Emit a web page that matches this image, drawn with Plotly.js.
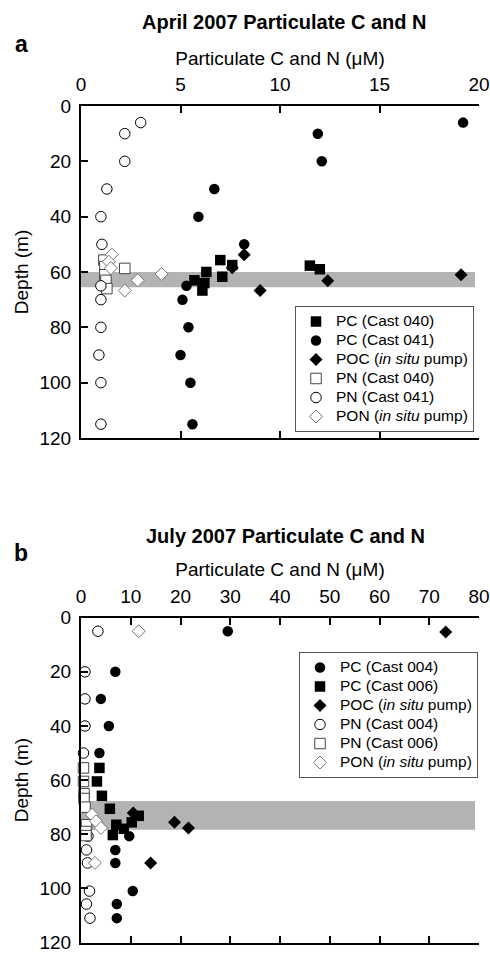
<!DOCTYPE html>
<html><head><meta charset="utf-8">
<script src="https://cdn.plot.ly/plotly-3.0.1.min.js"></script>
<style>html,body{margin:0;padding:0;background:#fff}#chart{width:490px;height:954px}</style>
</head><body><div id="chart"></div>
<script>
// ---------- Panel a : April 2007 ----------
const aPcCast040C     = [7.0, 7.6, 6.3, 7.1, 5.7, 6.2, 6.1, 11.5, 12.0];
const aPcCast040Depth = [55.7, 57.5, 60.0, 61.7, 63.0, 64.0, 66.7, 57.7, 59.0];
const aPcCast041C     = [19.2, 11.9, 12.1, 6.7, 5.9, 8.2, 5.3, 5.1, 5.4, 5.0, 5.5, 5.6];
const aPcCast041Depth = [6, 10, 20, 30, 40, 50, 65, 70, 80, 90, 100, 115];
const aPocC           = [8.2, 7.6, 12.4, 19.1, 9.0];
const aPocDepth       = [53.8, 58.5, 63.2, 61.0, 66.7];
const aPnCast040N     = [1.15, 1.2, 1.2, 1.25, 1.3, 2.2];
const aPnCast040Depth = [55.7, 58.0, 61.0, 63.0, 66.0, 58.7];
const aPnCast041N     = [3.0, 2.2, 2.2, 1.3, 1.0, 1.05, 1.0, 1.0, 1.0, 0.9, 1.0, 1.0];
const aPnCast041Depth = [6, 10, 20, 30, 40, 50, 65, 70, 80, 90, 100, 115];
const aPonN           = [1.55, 1.4, 1.5, 4.05, 2.85, 2.2];
const aPonDepth       = [53.7, 56.3, 58.6, 60.7, 63.0, 66.7];
const aBandDepth      = [60, 65.5];
const aBandC          = [0, 19.8];

// ---------- Panel b : July 2007 ----------
const bPcCast004C     = [29.5, 6.9, 4.0, 5.6, 3.7, 9.7, 6.9, 6.9, 10.4, 7.2, 7.2];
const bPcCast004Depth = [5, 20, 30, 40, 50, 80.7, 85.8, 90.6, 101, 105.8, 111];
const bPcCast006C     = [3.7, 3.2, 4.2, 5.8, 11.6, 10.2, 7.1, 8.6, 6.4];
const bPcCast006Depth = [55.5, 60.5, 65.8, 70.6, 73.2, 75.6, 76.5, 78.0, 80.3];
const bPocC           = [73.3, 10.5, 18.8, 21.6, 14.0];
const bPocDepth       = [5.3, 72.2, 75.6, 77.7, 90.6];
const bPnCast004N     = [3.4, 0.8, 0.8, 0.8, 0.5, 1.4, 1.1, 1.3, 1.7, 1.1, 1.8];
const bPnCast004Depth = [5, 20, 30, 40, 50, 80.7, 85.8, 90.6, 101, 105.8, 111];
const bPnCast006N     = [0.5, 0.5, 0.6, 0.6, 0.8, 1.1, 1.0, 1.0];
const bPnCast006Depth = [55.5, 60.5, 65.0, 66.8, 70.0, 76.5, 79.0, 80.5];
const bPonN           = [11.6, 2.2, 3.0, 4.0, 2.8];
const bPonDepth       = [5.0, 72.8, 75.2, 77.7, 90.6];
const bBandDepth      = [67.7, 78.3];
const bBandC          = [0, 79.2];

// ---------- Text ----------
const titleA = 'April 2007 Particulate C and N';
const titleB = 'July 2007 Particulate C and N';
const xTitle = 'Particulate C and N (\u03BCM)';
const yTitle = 'Depth (m)';
const namesA = ['PC (Cast 040)', 'PC (Cast 041)', 'POC (<i>in situ</i> pump)',
                'PN (Cast 040)', 'PN (Cast 041)', 'PON (<i>in situ</i> pump)'];
const namesB = ['PC (Cast 004)', 'PC (Cast 006)', 'POC (<i>in situ</i> pump)',
                'PN (Cast 004)', 'PN (Cast 006)', 'PON (<i>in situ</i> pump)'];

const FONT = '"Liberation Sans", Arial, Helvetica, sans-serif';
const LEG_TXT = 15.5;
function legName(s) { return '<span style="font-size:' + LEG_TXT + 'px">' + s + '</span>'; }

function tr(x, y, name, symbol, filled, lineColor, xa, ya, legend, size) {
  return {
    type: 'scatter', mode: 'markers', x: x, y: y, name: legName(name),
    xaxis: xa, yaxis: ya, legend: legend, cliponaxis: false,
    marker: {
      symbol: symbol, size: size,
      color: filled ? '#000' : '#fff',
      line: {color: lineColor, width: filled ? 0 : 1}
    }
  };
}

const data = [
  tr(aPcCast040C, aPcCast040Depth, namesA[0], 'square', true, '#000', 'x', 'y', 'legend', 10.5),
  tr(aPcCast041C, aPcCast041Depth, namesA[1], 'circle', true, '#000', 'x', 'y', 'legend', 10.5),
  tr(aPocC, aPocDepth, namesA[2], 'diamond', true, '#000', 'x', 'y', 'legend', 10),
  tr(aPnCast040N, aPnCast040Depth, namesA[3], 'square', false, '#444', 'x', 'y', 'legend', 10.5),
  tr(aPnCast041N, aPnCast041Depth, namesA[4], 'circle', false, '#000', 'x', 'y', 'legend', 10.5),
  tr(aPonN, aPonDepth, namesA[5], 'diamond', false, '#777', 'x', 'y', 'legend', 10),

  tr(bPcCast004C, bPcCast004Depth, namesB[0], 'circle', true, '#000', 'x2', 'y2', 'legend2', 10.5),
  tr(bPcCast006C, bPcCast006Depth, namesB[1], 'square', true, '#000', 'x2', 'y2', 'legend2', 10.5),
  tr(bPocC, bPocDepth, namesB[2], 'diamond', true, '#000', 'x2', 'y2', 'legend2', 10),
  tr(bPnCast004N, bPnCast004Depth, namesB[3], 'circle', false, '#000', 'x2', 'y2', 'legend2', 10.5),
  tr(bPnCast006N, bPnCast006Depth, namesB[4], 'square', false, '#444', 'x2', 'y2', 'legend2', 10.5),
  tr(bPonN, bPonDepth, namesB[5], 'diamond', false, '#777', 'x2', 'y2', 'legend2', 10)
];

const W = 490, H = 954;
function xAxis(domain, range, dtick, anchor) {
  return {
    domain: domain, anchor: anchor, side: 'top', range: range, dtick: dtick, tick0: 0,
    ticks: 'inside', ticklen: 7, tickwidth: 2, tickcolor: '#000',
    showline: true, linewidth: 2, linecolor: '#000', mirror: 'ticks',
    showgrid: false, zeroline: false, tickfont: {size: 19, family: FONT},
    ticklabelstandoff: 5, ticklabeloverflow: 'allow',
    title: {text: xTitle, font: {size: 19, family: FONT}, standoff: 4}
  };
}
function yAxis(domain, anchor) {
  return {
    domain: domain, anchor: anchor, range: [120, 0], dtick: 20, tick0: 0,
    ticks: 'inside', ticklen: 7, tickwidth: 2, tickcolor: '#000',
    showline: true, linewidth: 2, linecolor: '#000', mirror: false,
    showgrid: false, zeroline: false, tickfont: {size: 19, family: FONT},
    ticklabelstandoff: 4, ticklabeloverflow: 'allow',
    title: {text: yTitle, font: {size: 19, family: FONT}, standoff: 6}
  };
}
const xDom = [81 / W, 479 / W];
const legendStyle = {
  bgcolor: '#fff', bordercolor: '#555', borderwidth: 1,
  font: {size: 11, family: FONT, color: '#000'}, traceorder: 'normal'
};
const layout = {
  width: W, height: H,
  margin: {l: 0, r: 0, t: 0, b: 0},
  paper_bgcolor: '#fff', plot_bgcolor: '#fff',
  font: {family: FONT, color: '#000', size: 19},
  showlegend: true,
  xaxis: xAxis(xDom, [0, 20], 5, 'y'),
  yaxis: yAxis([1 - 438 / H, 1 - 106 / H], 'x'),
  xaxis2: xAxis(xDom, [0, 80], 10, 'y2'),
  yaxis2: yAxis([1 - 942.5 / H, 1 - 617.7 / H], 'x2'),
  legend: Object.assign({x: 474 / W, xanchor: 'right', y: 1 - 369 / H, yanchor: 'middle'}, legendStyle),
  legend2: Object.assign({x: 478 / W, xanchor: 'right', y: 1 - 715 / H, yanchor: 'middle'}, legendStyle),
  shapes: [
    {type: 'rect', xref: 'x', yref: 'y', x0: aBandC[0], x1: aBandC[1], y0: aBandDepth[0], y1: aBandDepth[1],
     fillcolor: '#b3b3b3', line: {width: 0}, layer: 'below'},
    {type: 'rect', xref: 'x2', yref: 'y2', x0: bBandC[0], x1: bBandC[1], y0: bBandDepth[0], y1: bBandDepth[1],
     fillcolor: '#b3b3b3', line: {width: 0}, layer: 'below'}
  ],
  annotations: [
    {text: '<b>' + titleA + '</b>', xref: 'paper', yref: 'paper', x: 284 / W, y: 1 - 22 / H,
     xanchor: 'center', yanchor: 'middle', showarrow: false, font: {size: 20, family: FONT}},
    {text: '<b>a</b>', xref: 'paper', yref: 'paper', x: 21 / W, y: 1 - 44 / H,
     xanchor: 'center', yanchor: 'middle', showarrow: false, font: {size: 23, family: FONT}},
    {text: '<b>' + titleB + '</b>', xref: 'paper', yref: 'paper', x: 285 / W, y: 1 - 536 / H,
     xanchor: 'center', yanchor: 'middle', showarrow: false, font: {size: 20, family: FONT}},
    {text: '<b>b</b>', xref: 'paper', yref: 'paper', x: 21 / W, y: 1 - 553 / H,
     xanchor: 'center', yanchor: 'middle', showarrow: false, font: {size: 23, family: FONT}}
  ]
};

Plotly.newPlot('chart', data, layout, {staticPlot: true, displayModeBar: false});
</script>
</body></html>
